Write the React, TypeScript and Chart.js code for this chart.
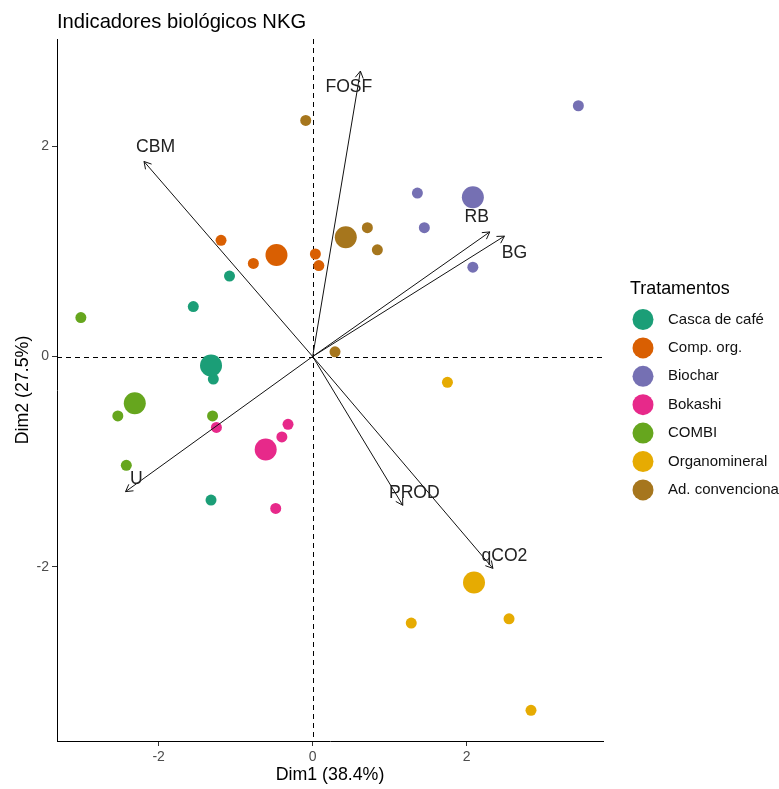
import React, { useEffect, useRef } from "react";
import { Chart, registerables } from "chart.js";

Chart.register(...registerables);

const FONT = "'Liberation Sans', Arial, sans-serif";

const chartTitle = "Indicadores biológicos NKG";
const xTitle = "Dim1 (38.4%)";
const yTitle = "Dim2 (27.5%)";
const legendTitle = "Tratamentos";

const xTicks = [-2, 0, 2];
const yTicks = [-2, 0, 2];

const groups = ["Casca de café", "Comp. org.", "Biochar", "Bokashi", "COMBI", "Organomineral", "Ad. convencional"];
const groupColors = ["#1B9E77", "#D95F02", "#7570B3", "#E7298A", "#66A61E", "#E6AB02", "#A6761D"];

// individuals per treatment
const cascaX = [-1.55, -1.08, -1.29, -1.32];
const cascaY = [0.475, 0.765, -0.215, -1.365];
const compX = [-1.19, -0.77, 0.035, 0.08];
const compY = [1.105, 0.885, 0.975, 0.865];
const biocharX = [3.45, 1.36, 1.45, 2.08];
const biocharY = [2.385, 1.555, 1.225, 0.85];
const bokashiX = [-0.32, -0.4, -1.25, -0.48];
const bokashiY = [-0.645, -0.765, -0.675, -1.445];
const combiX = [-3.01, -2.53, -1.3, -2.42];
const combiY = [0.37, -0.565, -0.565, -1.035];
const organoX = [1.75, 1.28, 2.55, 2.835];
const organoY = [-0.245, -2.535, -2.495, -3.365];
const adX = [0.29, -0.09, 0.71, 0.84];
const adY = [0.045, 2.245, 1.225, 1.015];

// group centroids
const centroidX = [-1.32, -0.47, 2.08, -0.61, -2.31, 2.095, 0.43];
const centroidY = [-0.085, 0.965, 1.515, -0.885, -0.445, -2.15, 1.135];

// variables (arrows)
const varNames = ["FOSF", "CBM", "RB", "BG", "U", "PROD", "qCO2"];
const varX = [0.62, -2.19, 2.3, 2.49, -2.43, 1.17, 2.34];
const varY = [2.715, 1.855, 1.185, 1.145, -1.285, -1.415, -2.015];
const varLabelX = [0.47, -2.04, 2.13, 2.62, -2.29, 1.32, 2.49];
const varLabelY = [2.565, 1.995, 1.325, 0.985, -1.165, -1.295, -1.895];

const indivX = [cascaX, compX, biocharX, bokashiX, combiX, organoX, adX];
const indivY = [cascaY, compY, biocharY, bokashiY, combiY, organoY, adY];

const biplotPlugin = {
  id: "biplot",
  beforeDatasetsDraw(chart: any) {
    const { ctx, chartArea, scales } = chart;
    const x0 = scales.x.getPixelForValue(0);
    const y0 = scales.y.getPixelForValue(0);
    ctx.save();
    ctx.strokeStyle = "#000";
    ctx.lineWidth = 1;
    ctx.setLineDash([5, 4]);
    ctx.beginPath();
    ctx.moveTo(chartArea.left, Math.round(y0) + 0.5);
    ctx.lineTo(chartArea.right, Math.round(y0) + 0.5);
    ctx.moveTo(Math.round(x0) + 0.5, chartArea.top);
    ctx.lineTo(Math.round(x0) + 0.5, chartArea.bottom);
    ctx.stroke();
    ctx.restore();
  },
  afterDatasetsDraw(chart: any) {
    const { ctx, scales } = chart;
    const x0 = scales.x.getPixelForValue(0);
    const y0 = scales.y.getPixelForValue(0);
    ctx.save();
    ctx.strokeStyle = "#111";
    ctx.lineWidth = 1;
    ctx.setLineDash([]);
    for (let i = 0; i < varNames.length; i++) {
      const tx = scales.x.getPixelForValue(varX[i]);
      const ty = scales.y.getPixelForValue(varY[i]);
      const ang = Math.atan2(ty - y0, tx - x0);
      const hl = 8;
      const ha = Math.PI / 6;
      ctx.beginPath();
      ctx.moveTo(x0, y0);
      ctx.lineTo(tx, ty);
      ctx.moveTo(tx - hl * Math.cos(ang - ha), ty - hl * Math.sin(ang - ha));
      ctx.lineTo(tx, ty);
      ctx.lineTo(tx - hl * Math.cos(ang + ha), ty - hl * Math.sin(ang + ha));
      ctx.stroke();
    }
    ctx.fillStyle = "#222";
    ctx.font = `17.6px ${FONT}`;
    ctx.textAlign = "center";
    ctx.textBaseline = "middle";
    for (let i = 0; i < varNames.length; i++) {
      ctx.fillText(varNames[i], scales.x.getPixelForValue(varLabelX[i]), scales.y.getPixelForValue(varLabelY[i]));
    }
    ctx.restore();
  },
  afterDraw(chart: any) {
    const { ctx, chartArea } = chart;
    ctx.save();
    ctx.fillStyle = "#000";
    ctx.textAlign = "left";
    ctx.textBaseline = "middle";
    ctx.font = `20.2px ${FONT}`;
    ctx.fillText(chartTitle, chartArea.left, 22);
    // legend
    const lx = chartArea.right + 27;
    ctx.font = `17.9px ${FONT}`;
    ctx.fillText(legendTitle, lx, 289);
    ctx.font = `15px ${FONT}`;
    for (let i = 0; i < groups.length; i++) {
      const cy = 319.5 + i * 28.4;
      ctx.fillStyle = groupColors[i];
      ctx.beginPath();
      ctx.arc(lx + 13, cy, 10.5, 0, Math.PI * 2);
      ctx.fill();
      ctx.fillStyle = "#111";
      ctx.fillText(groups[i], lx + 38, cy);
    }
    ctx.restore();
  },
};

export default function App() {
  const ref = useRef<HTMLCanvasElement | null>(null);
  useEffect(() => {
    if (!ref.current) return;
    const datasets = groups.map((g, gi) => {
      const pts = indivX[gi].map((x, k) => ({ x, y: indivY[gi][k] }));
      pts.push({ x: centroidX[gi], y: centroidY[gi] });
      return {
        label: g,
        data: pts,
        backgroundColor: groupColors[gi],
        borderWidth: 0,
        pointRadius: pts.map((_, k) => (k === pts.length - 1 ? 11 : 5.5)),
        pointHoverRadius: pts.map((_, k) => (k === pts.length - 1 ? 11 : 5.5)),
      };
    });
    const axisCommon = {
      type: "linear" as const,
      grid: { drawOnChartArea: false, drawTicks: true, tickLength: 5, color: "#333", lineWidth: 1 },
      border: { display: true, color: "#000", width: 1 },
      ticks: { font: { family: FONT, size: 14 }, color: "#4D4D4D", padding: 3 },
    };
    const chart = new Chart(ref.current, {
      type: "scatter",
      data: { datasets },
      options: {
        animation: false,
        responsive: false,
        maintainAspectRatio: false,
        layout: { padding: { left: 0, top: 39, right: 176, bottom: 0 } },
        plugins: { legend: { display: false }, tooltip: { enabled: false }, title: { display: false } },
        scales: {
          x: {
            ...axisCommon,
            position: "bottom",
            min: -3.32,
            max: 3.77,
            afterBuildTicks: (s: any) => {
              s.ticks = xTicks.map((v) => ({ value: v }));
            },
            afterFit: (s: any) => {
              s.height = 48;
            },
            title: { display: true, text: xTitle, color: "#000", font: { family: FONT, size: 17.8 }, padding: { top: 0, bottom: 3 } },
          },
          y: {
            ...axisCommon,
            position: "left",
            min: -3.657,
            max: 3.02,
            afterBuildTicks: (s: any) => {
              s.ticks = yTicks.map((v) => ({ value: v }));
            },
            afterFit: (s: any) => {
              s.width = 57;
            },
            title: { display: true, text: yTitle, color: "#000", font: { family: FONT, size: 17.8 }, padding: { top: 12, bottom: 0 } },
          },
        },
      },
      plugins: [biplotPlugin],
    });
    return () => chart.destroy();
  }, []);
  return (
    <div style={{ position: "fixed", left: 0, top: 0, width: 779, height: 789, background: "#fff" }}>
      <canvas ref={ref} width={779} height={789} style={{ width: 779, height: 789 }} />
    </div>
  );
}
